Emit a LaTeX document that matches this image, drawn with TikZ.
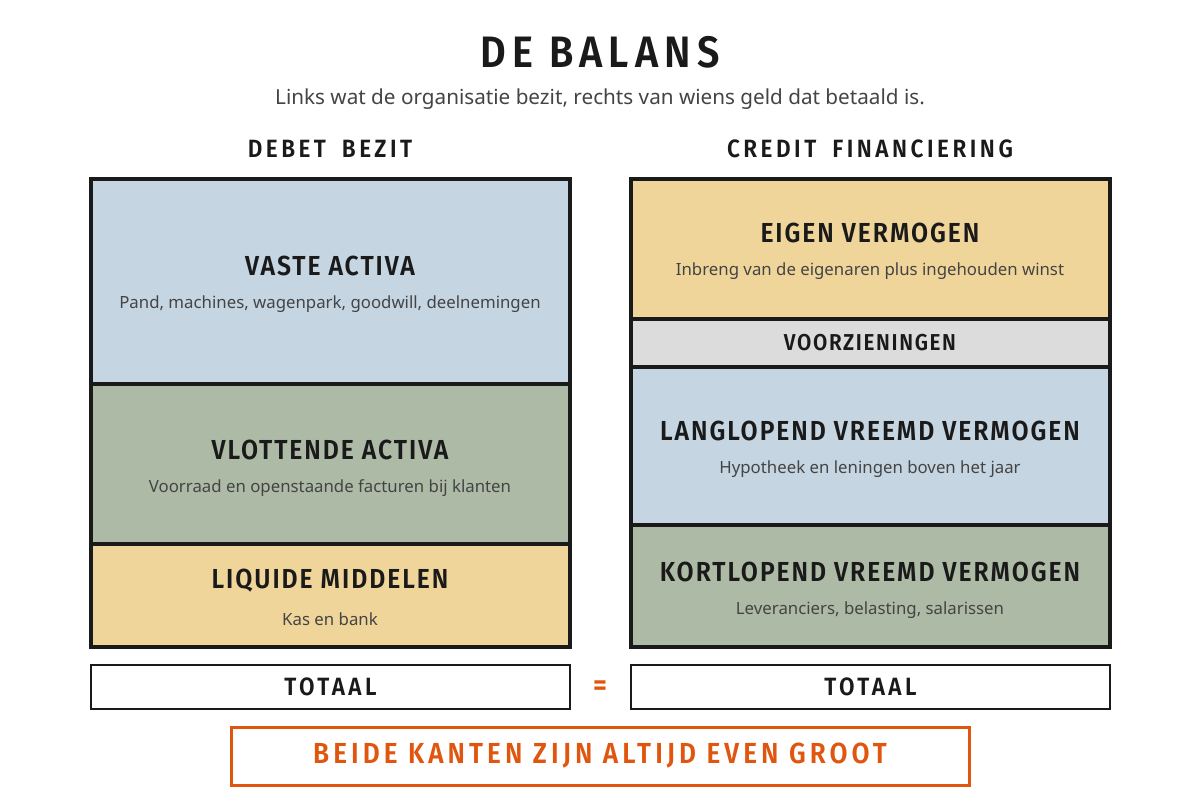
\documentclass[tikz,border=0pt]{standalone}
\usepackage{fontspec}
\setmainfont{Noto Sans}
\newfontfamily\hd{Fira Sans}[FakeStretch=0.9,LetterSpace=7,UprightFont=* SemiBold]
\newfontfamily\hw{Fira Sans}[FakeStretch=0.9,LetterSpace=14,UprightFont=* SemiBold]
\definecolor{ink}{HTML}{1A1A1A}
\definecolor{sub}{HTML}{444444}
\definecolor{blue}{HTML}{C5D5E2}
\definecolor{green}{HTML}{ADBAA5}
\definecolor{sand}{HTML}{F0D59B}
\definecolor{grey}{HTML}{DCDCDC}
\definecolor{orng}{HTML}{E0560E}
\begin{document}
\begin{tikzpicture}[x=1pt,y=-1pt,
 box/.style={draw=ink,line width=3.5pt,rectangle,inner sep=0pt},
 ttl/.style={font=\hd\fontsize{27.5}{29}\selectfont,text=ink},
 hdr/.style={font=\hw\fontsize{25}{27}\selectfont,text=ink},
 txt/.style={font=\fontsize{16.8}{18}\selectfont,text=sub}]
\useasboundingbox (0,0) rectangle (1200,800);
\node[font=\hw\fontsize{44}{46}\selectfont,text=ink] (title) at (600,52) {DE BALANS};
\node[font=\fontsize{20.7}{22}\selectfont,text=sub] (subt) at (600,99) {Links wat de organisatie bezit, rechts van wiens geld dat betaald is.};
\node[hdr] (lh) at (330,149) {DEBET\hspace{16pt}BEZIT};
\node[hdr] (rh) at (870,149) {CREDIT\hspace{16pt}FINANCIERING};
% left
\path[box,fill=blue] (91,179) rectangle (570,384);
\path[box,fill=green] (91,384) rectangle (570,544);
\path[box,fill=sand] (91,544) rectangle (570,647);
\node[ttl] (va) at (330,266) {VASTE ACTIVA};
\node[txt] (vas) at (330,304) {Pand, machines, wagenpark, goodwill, deelnemingen};
\node[ttl] (vl) at (330,450) {VLOTTENDE ACTIVA};
\node[txt] (vls) at (330,488) {Voorraad en openstaande facturen bij klanten};
\node[ttl] (lm) at (330,581) {LIQUIDE MIDDELEN};
\node[txt] (lms) at (330,619) {Kas en bank};
% right
\path[box,fill=sand] (631,179) rectangle (1110,319);
\path[box,fill=grey] (631,319) rectangle (1110,367);
\path[box,fill=blue] (631,367) rectangle (1110,525);
\path[box,fill=green] (631,525) rectangle (1110,647);
\node[ttl] (ev) at (870,233) {EIGEN VERMOGEN};
\node[txt] (evs) at (870,271) {Inbreng van de eigenaren plus ingehouden winst};
\node[font=\hd\fontsize{23}{25}\selectfont,text=ink] (vz) at (870,343) {VOORZIENINGEN};
\node[ttl] (lv) at (870,431) {LANGLOPEND VREEMD VERMOGEN};
\node[txt] (lvs) at (870,469) {Hypotheek en leningen boven het jaar};
\node[ttl] (kv) at (870,572) {KORTLOPEND VREEMD VERMOGEN};
\node[txt] (kvs) at (870,610) {Leveranciers, belasting, salarissen};
% totals
\node[box,line width=2.5pt,fill=white,minimum width=479pt,minimum height=44pt,font=\hw\fontsize{25}{27}\selectfont,text=ink] (tl) at (330.5,687) {TOTAAL};
\node[box,line width=2.5pt,fill=white,minimum width=479pt,minimum height=44pt,font=\hw\fontsize{25}{27}\selectfont,text=ink] (tr) at (870.5,687) {TOTAAL};
\node[font=\hd\fontsize{30}{32}\selectfont,text=orng] (eq) at (600,688) {=};
\node[draw=orng,line width=3pt,fill=white,minimum width=738pt,minimum height=58pt,font=\hw\fontsize{29}{31}\selectfont,text=orng] (bot) at (600,756) {BEIDE KANTEN ZIJN ALTIJD EVEN GROOT};
\end{tikzpicture}
\end{document}
